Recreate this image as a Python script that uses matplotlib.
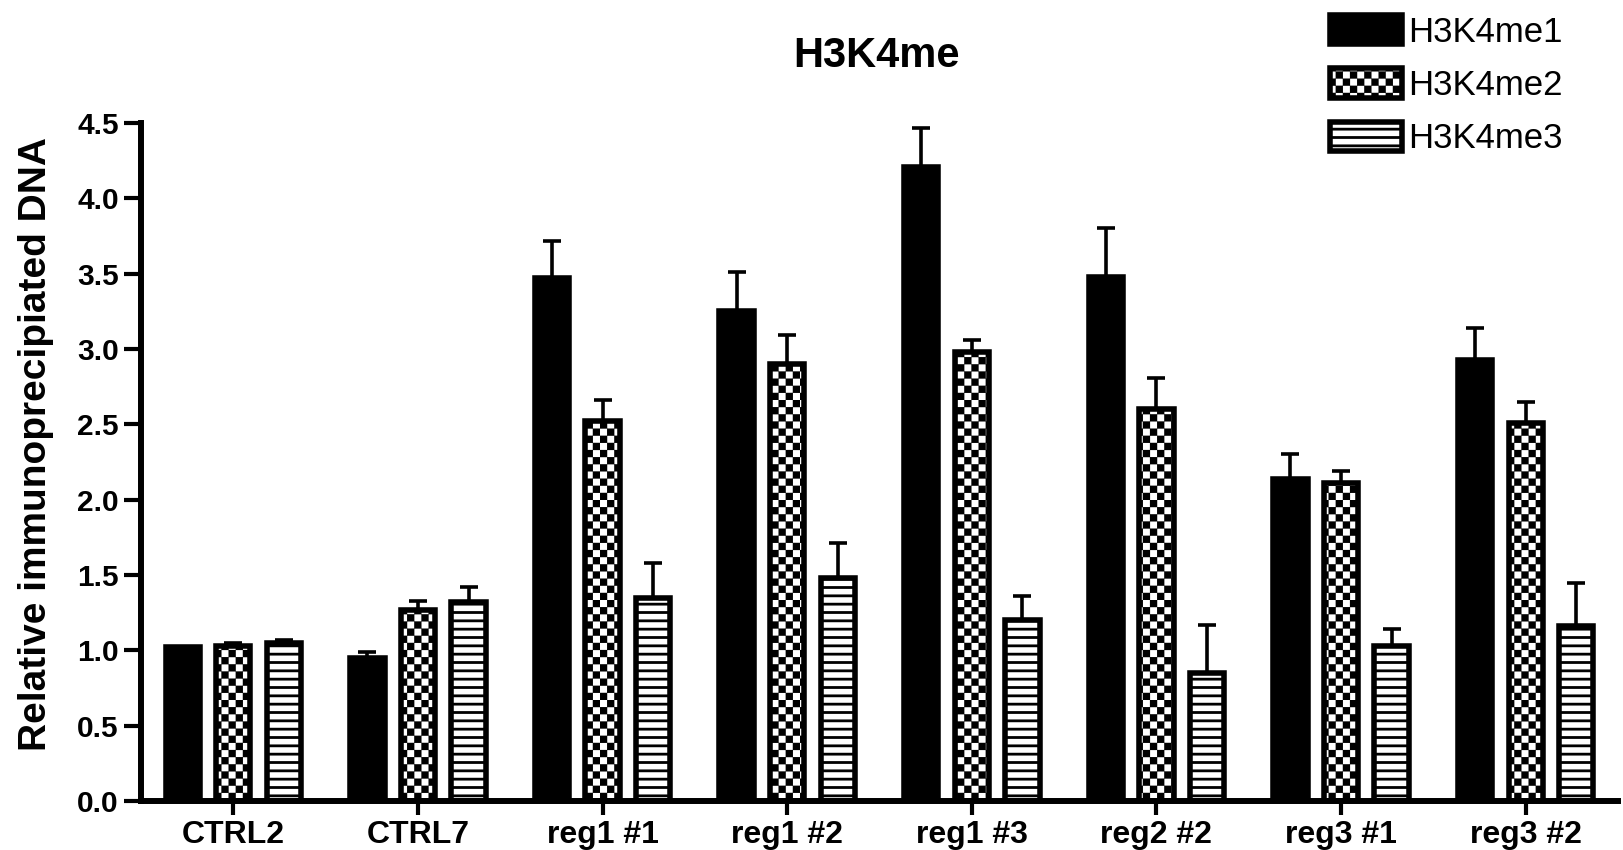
import numpy as np
import matplotlib
matplotlib.use('Agg')
import matplotlib.pyplot as plt
import matplotlib.hatch as mhatch
from matplotlib.path import Path

groups = ['CTRL2', 'CTRL7', 'reg1 #1', 'reg1 #2', 'reg1 #3', 'reg2 #2', 'reg3 #1', 'reg3 #2']
series = ['H3K4me1', 'H3K4me2', 'H3K4me3']

me1 = [1.02, 0.95, 3.47, 3.25, 4.21, 3.48, 2.14, 2.93]
me1_err = [0.0, 0.04, 0.25, 0.26, 0.26, 0.32, 0.16, 0.21]
me2 = [1.03, 1.27, 2.52, 2.90, 2.98, 2.60, 2.11, 2.51]
me2_err = [0.02, 0.06, 0.14, 0.19, 0.08, 0.21, 0.08, 0.14]
me3 = [1.05, 1.32, 1.35, 1.48, 1.20, 0.85, 1.03, 1.16]
me3_err = [0.02, 0.10, 0.23, 0.23, 0.16, 0.32, 0.11, 0.29]

yticks = [0.0, 0.5, 1.0, 1.5, 2.0, 2.5, 3.0, 3.5, 4.0, 4.5]


class CheckerHatch(mhatch.HatchPatternBase):
    """filled checkerboard, used in place of the '*' stars pattern"""
    def __init__(self, hatch, density):
        self.n = 14 if '*' in hatch else 0
        self.num_vertices = (self.n * self.n // 2) * 5

    def set_vertices_and_codes(self, vertices, codes):
        n = self.n
        s = 1.0 / n
        d = 0.013  # inset so the stroke does not swell the squares
        parts = []
        for i in range(n):
            for j in range(n):
                if (i + j) % 2 == 0:
                    x0, y0 = i * s + d, j * s + d
                    x1, y1 = (i + 1) * s - d, (j + 1) * s - d
                    parts.append([[x0, y0], [x1, y0], [x1, y1], [x0, y1], [x0, y0]])
        vertices[:] = np.concatenate(parts)
        codes[:] = np.tile([Path.MOVETO, Path.LINETO, Path.LINETO,
                            Path.LINETO, Path.CLOSEPOLY], len(parts))


mhatch._hatch_types = [CheckerHatch if h is mhatch.Stars else h
                       for h in mhatch._hatch_types]

plt.rcParams['font.family'] = ['Liberation Sans', 'DejaVu Sans']
plt.rcParams['hatch.linewidth'] = 2.0
plt.rcParams['hatch.color'] = 'black'

W, H = 1624, 850
fig = plt.figure(figsize=(W / 100, H / 100), dpi=100)
ax = fig.add_axes([141 / W, 1 - 801 / H, (1618 - 141) / W, (801 - 123) / H])

x = np.arange(len(groups))
step = 0.274
width = 0.186
edge = 4.0

vals = [me1, me2, me3]
errs = [me1_err, me2_err, me3_err]
hatches = [None, '*', '--']
faces = ['black', 'white', 'white']

bars = []
for k in range(3):
    pos = x + (k - 1) * step
    b = ax.bar(pos, vals[k], width, color=faces[k], edgecolor='black',
               linewidth=edge, hatch=hatches[k], label=series[k], zorder=2)
    bars.append(b)
    ax.errorbar(pos, vals[k], yerr=[np.zeros(len(groups)), errs[k]], fmt='none',
                ecolor='black', elinewidth=2.6, capsize=6.5, capthick=2.6, zorder=1)

ax.set_xlim(-0.5, 7.5)
ax.set_ylim(0, 4.5)
ax.set_yticks(yticks)
ax.set_yticklabels(['%.1f' % v for v in yticks])
ax.set_xticks(x)
ax.set_xticklabels(groups)

for sp in ['top', 'right']:
    ax.spines[sp].set_visible(False)
for sp in ['left', 'bottom']:
    ax.spines[sp].set_linewidth(4.3)

ax.tick_params(axis='y', length=12, width=3, pad=4, labelsize=21.5)
ax.tick_params(axis='x', length=10, width=3, pad=4, labelsize=23)
for lab in ax.get_xticklabels() + ax.get_yticklabels():
    lab.set_fontweight('bold')

ax.set_ylabel('Relative immunoprecipiated DNA', fontsize=28, fontweight='bold')
ax.yaxis.set_label_coords(-0.059, 0.527)

fig.text(877 / W, 1 - 56 / H, 'H3K4me', fontsize=30, fontweight='bold',
         ha='center', va='center')

fig.legend(handles=bars, labels=series, loc='upper left',
           bbox_to_anchor=(1330 / W, 1 - 15 / H), frameon=False, fontsize=25,
           handlelength=2.07, handleheight=0.92, handletextpad=0.18,
           labelspacing=0.57, borderpad=0, borderaxespad=0)

fig.savefig('out.png', dpi=100)
